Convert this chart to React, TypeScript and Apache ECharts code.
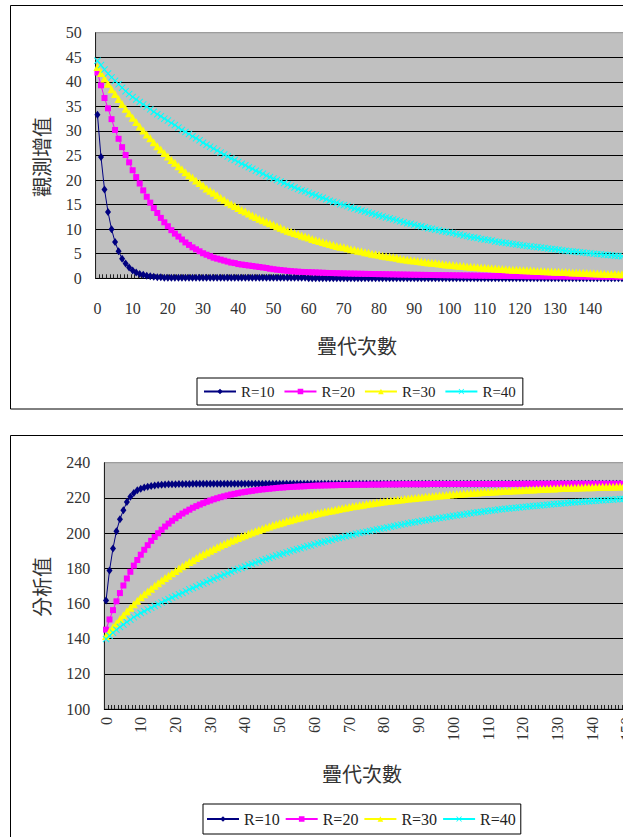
import React, { useEffect, useRef } from 'react';
import * as echarts from 'echarts';

// ---------- categories (iteration index) ----------
const topCategories: string[] = Array.from({ length: 150 }, (_, i) => String(i));
const bottomCategories: string[] = Array.from({ length: 151 }, (_, i) => String(i));
const seriesNames = ['R=10', 'R=20', 'R=30', 'R=40'];

// ---------- top chart: 觀測增值 ----------
const topR10 = [
  33.3, 24.7, 18.1, 13.5, 10.0, 7.4, 5.5, 4.0, 3.0, 2.2,
  1.6, 1.2, 0.9, 0.7, 0.5, 0.4, 0.3, 0.2, 0.2, 0.1,
  0.1, 0.1, 0.1, 0.1, 0.1, 0.1, 0.1, 0.1, 0.1, 0.1,
  0.1, 0.1, 0.1, 0.1, 0.1, 0.1, 0.1, 0.1, 0.1, 0.1,
  0.1, 0.1, 0.1, 0.1, 0.1, 0.1, 0.1, 0.1, 0.1, 0.1,
  0.1, 0.1, 0.1, 0.1, 0.1, 0.1, 0.1, 0.1, 0.1, 0.1,
  0, 0, 0, 0, 0, 0, 0, 0, 0, 0,
  0, 0, 0, 0, 0, 0, 0, 0, 0, 0,
  0, 0, 0, 0, 0, 0, 0, 0, 0, 0,
  0, 0, 0, 0, 0, 0, 0, 0, 0, 0,
  0, 0, 0, 0, 0, 0, 0, 0, 0, 0,
  0, 0, 0, 0, 0, 0, 0, 0, 0, 0,
  0, 0, 0, 0, 0, 0, 0, 0, 0, 0,
  0, 0, 0, 0, 0, 0, 0, 0, 0, 0,
  0, 0, 0, 0, 0, 0, 0, 0, 0, 0,
];
const topR20 = [
  41.9, 39.3, 36.7, 34.6, 32.4, 30.2, 28.4, 26.7, 25.1, 23.6,
  22.0, 20.6, 19.3, 17.9, 16.6, 15.4, 14.3, 13.3, 12.3, 11.4,
  10.6, 9.8, 9.1, 8.5, 7.9, 7.3, 6.8, 6.3, 5.9, 5.5,
  5.1, 4.8, 4.5, 4.2, 4.0, 3.8, 3.6, 3.4, 3.2, 3.1,
  2.9, 2.8, 2.7, 2.6, 2.5, 2.4, 2.3, 2.2, 2.1, 1.95,
  1.85, 1.75, 1.68, 1.6, 1.52, 1.46, 1.4, 1.35, 1.3, 1.27,
  1.25, 1.22, 1.19, 1.16, 1.13, 1.1, 1.08, 1.06, 1.04, 1.02,
  1.0, 0.98, 0.96, 0.95, 0.93, 0.92, 0.9, 0.89, 0.88, 0.86,
  0.85, 0.84, 0.82, 0.81, 0.8, 0.78, 0.77, 0.76, 0.75, 0.73,
  0.72, 0.71, 0.7, 0.69, 0.68, 0.67, 0.66, 0.65, 0.64, 0.63,
  0.62, 0.61, 0.6, 0.59, 0.58, 0.57, 0.56, 0.55, 0.54, 0.53,
  0.52, 0.51, 0.5, 0.5, 0.49, 0.48, 0.47, 0.47, 0.46, 0.45,
  0.45, 0.44, 0.43, 0.43, 0.42, 0.41, 0.41, 0.4, 0.4, 0.39,
  0.39, 0.38, 0.38, 0.37, 0.37, 0.36, 0.36, 0.35, 0.35, 0.34,
  0.34, 0.34, 0.33, 0.33, 0.32, 0.32, 0.32, 0.31, 0.31, 0.3,
];
const topR30 = [
  43.0, 41.8, 40.7, 39.6, 38.5, 37.5, 36.5, 35.5, 34.5, 33.6,
  32.7, 31.8, 30.9, 30.1, 29.3, 28.5, 27.7, 26.9, 26.2, 25.5,
  24.8, 24.1, 23.5, 22.8, 22.2, 21.6, 21.0, 20.5, 19.9, 19.4,
  18.9, 18.3, 17.8, 17.4, 16.9, 16.4, 16.0, 15.5, 15.1, 14.7,
  14.3, 13.9, 13.6, 13.2, 12.8, 12.5, 12.1, 11.8, 11.5, 11.2,
  10.9, 10.6, 10.3, 10.0, 9.7, 9.5, 9.2, 9.0, 8.7, 8.5,
  8.3, 8.0, 7.8, 7.6, 7.4, 7.2, 7.0, 6.8, 6.6, 6.4,
  6.3, 6.1, 5.9, 5.8, 5.6, 5.5, 5.3, 5.2, 5.0, 4.9,
  4.8, 4.6, 4.5, 4.4, 4.3, 4.2, 4.0, 3.9, 3.8, 3.7,
  3.6, 3.5, 3.4, 3.3, 3.2, 3.15, 3.1, 3.0, 2.9, 2.8,
  2.75, 2.7, 2.6, 2.55, 2.5, 2.4, 2.35, 2.3, 2.25, 2.2,
  2.15, 2.1, 2.05, 2.0, 1.95, 1.9, 1.85, 1.8, 1.75, 1.72,
  1.7, 1.66, 1.62, 1.58, 1.54, 1.5, 1.47, 1.44, 1.41, 1.38,
  1.35, 1.32, 1.29, 1.26, 1.23, 1.2, 1.17, 1.14, 1.11, 1.08,
  1.05, 1.02, 0.99, 0.96, 0.93, 0.9, 0.88, 0.85, 0.83, 0.8,
];
const topR40 = [
  44.3, 43.4, 42.5, 41.7, 40.9, 40.2, 39.5, 38.8, 38.1, 37.5,
  36.9, 36.4, 35.9, 35.4, 34.9, 34.4, 33.9, 33.4, 33.0, 32.5,
  32.1, 31.6, 31.2, 30.7, 30.2, 29.8, 29.4, 28.9, 28.5, 28.1,
  27.6, 27.2, 26.8, 26.4, 26.0, 25.6, 25.2, 24.8, 24.4, 24.1,
  23.7, 23.3, 23.0, 22.6, 22.3, 21.9, 21.6, 21.3, 20.9, 20.6,
  20.3, 20.0, 19.7, 19.4, 19.1, 18.8, 18.5, 18.2, 17.9, 17.7,
  17.4, 17.1, 16.9, 16.6, 16.4, 16.1, 15.8, 15.6, 15.4, 15.1,
  14.9, 14.7, 14.4, 14.2, 14.0, 13.8, 13.6, 13.4, 13.2, 13.0,
  12.8, 12.6, 12.4, 12.2, 12.0, 11.8, 11.6, 11.4, 11.2, 11.1,
  10.9, 10.7, 10.6, 10.4, 10.2, 10.1, 9.9, 9.8, 9.6, 9.5,
  9.3, 9.2, 9.0, 8.9, 8.7, 8.6, 8.4, 8.3, 8.2, 8.0,
  7.9, 7.8, 7.7, 7.5, 7.4, 7.3, 7.2, 7.1, 7.0, 6.9,
  6.8, 6.7, 6.6, 6.5, 6.4, 6.35, 6.25, 6.15, 6.05, 5.95,
  5.9, 5.8, 5.7, 5.6, 5.5, 5.45, 5.4, 5.3, 5.25, 5.15,
  5.1, 5.0, 4.95, 4.9, 4.8, 4.75, 4.7, 4.6, 4.55, 4.5,
];

// ---------- bottom chart: 分析值 ----------
const botR10 = [
  161.7, 178.7, 191.3, 201.1, 207.9, 213.0, 217.7, 220.6, 222.8, 224.3,
  225.2, 225.9, 226.4, 226.8, 227.1, 227.3, 227.5, 227.6, 227.7, 227.8,
  227.8, 227.9, 227.9, 227.9, 227.9, 228.0, 228.0, 228.0, 228.0, 228.0,
  228.0, 228.0, 228.0, 228.0, 228.0, 228.0, 228.0, 228.0, 228.0, 228.0,
  228.0, 228.0, 228.0, 228.0, 228.0, 228.0, 228.0, 228.0, 228.0, 228.0,
  228.0, 228.0, 228.0, 228.0, 228.0, 228.0, 228.0, 228.0, 228.0, 228.0,
  228.0, 228.0, 228.0, 228.0, 228.0, 228.0, 228.0, 228.0, 228.0, 228.0,
  228.0, 228.0, 228.0, 228.0, 228.0, 228.0, 228.0, 228.0, 228.0, 228.0,
  228.0, 228.0, 228.0, 228.0, 228.0, 228.0, 228.0, 228.0, 228.0, 228.0,
  228.0, 228.0, 228.0, 228.0, 228.0, 228.0, 228.0, 228.0, 228.0, 228.0,
  228.0, 228.0, 228.0, 228.0, 228.0, 228.0, 228.0, 228.0, 228.0, 228.0,
  228.0, 228.0, 228.0, 228.0, 228.0, 228.0, 228.0, 228.0, 228.0, 228.0,
  228.0, 228.0, 228.0, 228.0, 228.0, 228.0, 228.0, 228.0, 228.0, 228.0,
  228.0, 228.0, 228.0, 228.0, 228.0, 228.0, 228.0, 228.0, 228.0, 228.0,
  228.0, 228.0, 228.0, 228.0, 228.0, 228.0, 228.0, 228.0, 228.0, 228.0,
  228.0,
];
const botR20 = [
  145.1, 150.9, 156.2, 161.2, 165.9, 170.2, 174.2, 178.0, 181.5, 184.7,
  187.7, 190.5, 193.1, 195.6, 197.8, 199.9, 201.9, 203.7, 205.4, 207.0,
  208.4, 209.8, 211.1, 212.2, 213.3, 214.4, 215.3, 216.2, 217.0, 217.8,
  218.5, 219.2, 219.8, 220.4, 220.9, 221.4, 221.9, 222.3, 222.7, 223.1,
  223.4, 223.7, 224.0, 224.3, 224.6, 224.8, 225.0, 225.2, 225.4, 225.6,
  225.8, 225.9, 226.1, 226.2, 226.3, 226.4, 226.5, 226.6, 226.7, 226.8,
  226.9, 227.0, 227.0, 227.1, 227.1, 227.2, 227.2, 227.3, 227.3, 227.3,
  227.4, 227.4, 227.5, 227.5, 227.5, 227.5, 227.6, 227.6, 227.6, 227.6,
  227.7, 227.7, 227.7, 227.7, 227.7, 227.8, 227.8, 227.8, 227.8, 227.8,
  227.8, 227.8, 227.8, 227.9, 227.9, 227.9, 227.9, 227.9, 227.9, 227.9,
  227.9, 227.9, 227.9, 227.9, 227.9, 227.9, 227.9, 227.9, 227.9, 227.9,
  227.9, 227.9, 227.9, 227.9, 227.9, 227.9, 227.9, 227.9, 227.9, 227.9,
  228.0, 228.0, 228.0, 228.0, 228.0, 228.0, 228.0, 228.0, 228.0, 228.0,
  228.0, 228.0, 228.0, 228.0, 228.0, 228.0, 228.0, 228.0, 228.0, 228.0,
  228.0, 228.0, 228.0, 228.0, 228.0, 228.0, 228.0, 228.0, 228.0, 228.0,
  228.0,
];
const botR30 = [
  141.5, 144.0, 146.4, 148.8, 151.1, 153.3, 155.5, 157.6, 159.6, 161.6,
  163.5, 165.2, 166.8, 168.4, 170.0, 171.5, 173.0, 174.4, 175.8, 177.2,
  178.5, 179.8, 181.1, 182.3, 183.5, 184.6, 185.8, 186.9, 187.9, 189.0,
  190.0, 191.0, 192.0, 192.9, 193.8, 194.7, 195.6, 196.4, 197.2, 198.0,
  198.8, 199.6, 200.3, 201.0, 201.7, 202.4, 203.1, 203.8, 204.4, 205.0,
  205.6, 206.2, 206.8, 207.3, 207.8, 208.4, 208.9, 209.4, 209.9, 210.3,
  210.8, 211.2, 211.7, 212.1, 212.5, 212.9, 213.3, 213.7, 214.1, 214.4,
  214.8, 215.2, 215.5, 215.8, 216.1, 216.5, 216.8, 217.1, 217.4, 217.6,
  217.9, 218.2, 218.4, 218.7, 218.9, 219.1, 219.4, 219.6, 219.8, 220.0,
  220.2, 220.4, 220.6, 220.8, 221.0, 221.2, 221.4, 221.5, 221.7, 221.9,
  222.0, 222.2, 222.3, 222.5, 222.6, 222.8, 222.9, 223.1, 223.2, 223.3,
  223.4, 223.5, 223.7, 223.8, 223.9, 224.0, 224.1, 224.2, 224.3, 224.4,
  224.5, 224.6, 224.7, 224.8, 224.9, 225.0, 225.1, 225.2, 225.3, 225.4,
  225.5, 225.6, 225.6, 225.7, 225.8, 225.8, 225.9, 225.9, 226.0, 226.1,
  226.1, 226.2, 226.2, 226.3, 226.3, 226.4, 226.4, 226.5, 226.5, 226.6,
  226.6,
];
const botR40 = [
  139.8, 141.6, 143.4, 145.0, 146.6, 148.0, 149.4, 150.8, 152.2, 153.4,
  154.6, 155.6, 156.6, 157.6, 158.6, 159.6, 160.6, 161.6, 162.4, 163.4,
  164.2, 165.2, 166.0, 167.0, 168.0, 168.8, 169.6, 170.6, 171.4, 172.2,
  173.2, 174.0, 174.8, 175.6, 176.4, 177.2, 178.0, 178.8, 179.6, 180.2,
  181.0, 181.8, 182.4, 183.2, 183.8, 184.6, 185.2, 185.8, 186.6, 187.2,
  187.8, 188.4, 189.0, 189.6, 190.2, 190.8, 191.4, 192.0, 192.6, 193.0,
  193.6, 194.2, 194.6, 195.2, 195.6, 196.2, 196.8, 197.2, 197.6, 198.2,
  198.6, 199.0, 199.6, 200.0, 200.4, 200.8, 201.2, 201.6, 202.0, 202.4,
  202.8, 203.2, 203.6, 204.0, 204.4, 204.8, 205.2, 205.6, 206.0, 206.2,
  206.6, 207.0, 207.2, 207.6, 208.0, 208.2, 208.6, 208.8, 209.2, 209.4,
  209.8, 210.0, 210.4, 210.6, 211.0, 211.2, 211.6, 211.8, 212.0, 212.4,
  212.6, 212.8, 213.0, 213.4, 213.6, 213.8, 214.0, 214.2, 214.4, 214.6,
  214.8, 215.0, 215.2, 215.4, 215.6, 215.7, 215.9, 216.1, 216.3, 216.5,
  216.6, 216.8, 217.0, 217.2, 217.4, 217.5, 217.6, 217.8, 217.9, 218.1,
  218.2, 218.4, 218.5, 218.6, 218.8, 218.9, 219.0, 219.2, 219.3, 219.4,
  219.6,
];

// ---------- texts ----------
const topYName = '觀測增值';
const bottomYName = '分析值';
const xName = '疊代次數';

const COLORS = ['#000080', '#FF00FF', '#FFFF00', '#00FFFF'];
const CROSS = 'path://M0,1L1,0L5,4L9,0L10,1L6,5L10,9L9,10L5,6L1,10L0,9L4,5Z';
const SYMBOLS = ['diamond', 'rect', 'triangle', CROSS];
const SYMBOL_SIZES: any[] = [[6, 8], 6, 8, 7];

const SERIF = 'Liberation Serif';
const CJK = 'Noto Sans CJK TC';
const TXT = '#333';

export default function App() {
  const ref = useRef<HTMLDivElement>(null);

  useEffect(() => {
    if (!ref.current) return;
    const chart = echarts.init(ref.current, undefined, { renderer: 'svg' });

    const labelEvery10 = (index: number) => index % 10 === 0;

    const mkSeries = (names: string[], datas: number[][], gi: number) =>
      datas.map((d, k) => ({
        name: names[k],
        type: 'line',
        xAxisIndex: gi,
        yAxisIndex: gi,
        data: d,
        symbol: SYMBOLS[k],
        symbolSize: SYMBOL_SIZES[k],
        showSymbol: true,
        showAllSymbol: true,
        lineStyle: { color: COLORS[k], width: 1 },
        itemStyle: { color: COLORS[k] },
        emphasis: { disabled: true },
        z: 3 + k,
      }));

    const legendBase = {
      orient: 'horizontal',
      data: seriesNames,
      selectedMode: false,
      borderColor: '#000',
      borderWidth: 1,
      itemWidth: 32,
      itemHeight: 7,
    };

    const option: any = {
      animation: false,
      backgroundColor: '#fff',
      grid: [
        {
          left: 95.7, top: 32.7, width: 528, height: 245.6,
          show: true, backgroundColor: '#C0C0C0', borderColor: '#8a8a8a', borderWidth: 1,
        },
        {
          left: 104.3, top: 462.7, width: 524.4, height: 246.3,
          show: true, backgroundColor: '#C0C0C0', borderColor: '#8a8a8a', borderWidth: 1,
        },
      ],
      xAxis: [
        {
          type: 'category', gridIndex: 0, data: topCategories, boundaryGap: true,
          axisLine: { show: true, lineStyle: { color: '#000', width: 1 } },
          axisTick: { show: true, inside: true, length: 4, interval: 0, lineStyle: { color: '#222' } },
          axisLabel: { interval: labelEvery10, margin: 22, fontFamily: SERIF, fontSize: 16, color: TXT },
          splitLine: { show: false },
        },
        {
          type: 'category', gridIndex: 1, data: bottomCategories, boundaryGap: true,
          axisLine: { show: true, lineStyle: { color: '#000', width: 1 } },
          axisTick: { show: true, inside: true, length: 4, interval: 0, lineStyle: { color: '#222' } },
          axisLabel: {
            interval: labelEvery10, rotate: 90, margin: 8, padding: [0, 0, 9, 0],
            fontFamily: SERIF, fontSize: 16, color: TXT,
          },
          splitLine: { show: false },
        },
      ],
      yAxis: [
        {
          type: 'value', gridIndex: 0, min: 0, max: 50, interval: 5,
          axisLine: { show: true, lineStyle: { color: '#222', width: 1 } },
          axisTick: { show: false },
          axisLabel: { margin: 14, fontFamily: SERIF, fontSize: 16, color: TXT },
          splitLine: { show: true, showMaxLine: false, lineStyle: { color: '#000', width: 1 } },
        },
        {
          type: 'value', gridIndex: 1, min: 100, max: 240, interval: 20,
          axisLine: { show: true, lineStyle: { color: '#222', width: 1 } },
          axisTick: { show: false },
          axisLabel: { margin: 14, fontFamily: SERIF, fontSize: 16, color: TXT },
          splitLine: { show: true, showMaxLine: false, lineStyle: { color: '#000', width: 1 } },
        },
      ],
      legend: [
        {
          ...legendBase, left: 197, top: 378, padding: [6, 7, 6, 6], itemGap: 9,
          textStyle: { fontFamily: SERIF, fontSize: 15, color: '#222' },
        },
        {
          ...legendBase, left: 203, top: 804, padding: [7, 5, 7, 3], itemGap: 5,
          textStyle: { fontFamily: SERIF, fontSize: 16, color: '#222' },
        },
      ],
      series: [
        ...mkSeries(seriesNames, [topR10, topR20, topR30, topR40], 0),
        ...mkSeries(seriesNames, [botR10, botR20, botR30, botR40], 1),
      ],
      graphic: [
        {
          type: 'rect', silent: true, z: -10,
          shape: { x: 10.5, y: 5.5, width: 700, height: 403.5 },
          style: { fill: 'none', stroke: '#000', lineWidth: 1 },
        },
        {
          type: 'rect', silent: true, z: -10,
          shape: { x: 10.5, y: 435.5, width: 700, height: 500 },
          style: { fill: 'none', stroke: '#000', lineWidth: 1 },
        },
        {
          type: 'text', x: 41, y: 157, rotation: Math.PI / 2,
          style: { text: topYName, font: `20px ${CJK}`, fill: TXT, textAlign: 'center', textVerticalAlign: 'middle', align: 'center', verticalAlign: 'middle' },
        },
        {
          type: 'text', x: 357, y: 345,
          style: { text: xName, font: `20px ${CJK}`, fill: TXT, textAlign: 'center', textVerticalAlign: 'middle', align: 'center', verticalAlign: 'middle' },
        },
        {
          type: 'text', x: 41, y: 587, rotation: Math.PI / 2,
          style: { text: bottomYName, font: `20px ${CJK}`, fill: TXT, textAlign: 'center', textVerticalAlign: 'middle', align: 'center', verticalAlign: 'middle' },
        },
        {
          type: 'text', x: 362, y: 773,
          style: { text: xName, font: `20px ${CJK}`, fill: TXT, textAlign: 'center', textVerticalAlign: 'middle', align: 'center', verticalAlign: 'middle' },
        },
      ],
    };

    chart.setOption(option);
    return () => chart.dispose();
  }, []);

  return (
    <div style={{ position: 'absolute', left: 0, top: 0, width: 623, height: 837, overflow: 'hidden', background: '#fff' }}>
      <div ref={ref} style={{ width: 700, height: 900 }} />
    </div>
  );
}
